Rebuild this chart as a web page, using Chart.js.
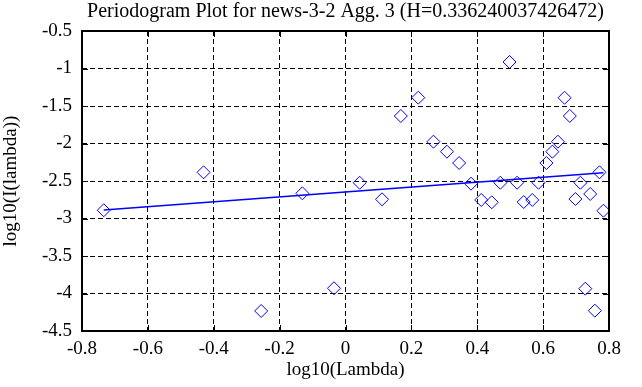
<!DOCTYPE html>
<html>
<head>
<meta charset="utf-8">
<script src="https://cdn.jsdelivr.net/npm/chart.js"></script>
<style>
  html, body { margin: 0; padding: 0; background: #fff; }
  #wrap { width: 642px; height: 387px; }
</style>
</head>
<body>
<div id="wrap"><canvas id="periodogram"></canvas></div>
<script>

// points of the periodogram (log10 lambda, log10 I(lambda))
var logLambda = [-0.734, -0.431, -0.256, -0.131, -0.035, 0.043, 0.111, 0.168, 0.221, 0.267,
                 0.308, 0.345, 0.381, 0.412, 0.444, 0.470, 0.498, 0.521, 0.541, 0.567,
                 0.586, 0.610, 0.628, 0.645, 0.665, 0.681, 0.698, 0.713, 0.728, 0.743,
                 0.757, 0.771, 0.783];
var logI = [-2.89, -2.384, -4.233, -2.664, -3.93, -2.523, -2.744, -1.633, -1.389, -1.976,
            -2.109, -2.26, -2.536, -2.753, -2.784, -2.523, -0.913, -2.523, -2.78, -2.753,
            -2.523, -2.26, -2.109, -1.976, -1.39, -1.633, -2.74, -2.523, -3.936, -2.673,
            -4.229, -2.384, -2.896];

// least squares line (end points)
var fitX = [-0.734, 0.783];
var fitY = [-2.887, -2.39];

var xTicks = [-0.8, -0.6, -0.4, -0.2, 0, 0.2, 0.4, 0.6, 0.8];
var yTicks = [-4.5, -4, -3.5, -3, -2.5, -2, -1.5, -1, -0.5];

var titre = 'Periodogram Plot for news-3-2 Agg. 3 (H=0.336240037426472)';
var police = 'Liberation Serif';

// cadre noir + petites graduations vers l'interieur
var cadre = {
    id: 'cadre',
    afterDatasetsDraw: function(chart) {
        var a = chart.chartArea, ctx = chart.ctx;
        var sx = chart.scales.x, sy = chart.scales.y;
        ctx.save();
        ctx.strokeStyle = '#000';
        ctx.lineWidth = 1;
        ctx.beginPath();
        xTicks.forEach(function(v) {
            var px = Math.round(sx.getPixelForValue(v)) + 0.5;
            ctx.moveTo(px, a.bottom); ctx.lineTo(px, a.bottom - 6);
            ctx.moveTo(px, a.top); ctx.lineTo(px, a.top + 6);
        });
        yTicks.forEach(function(v) {
            var py = Math.round(sy.getPixelForValue(v)) + 0.5;
            ctx.moveTo(a.left, py); ctx.lineTo(a.left + 6, py);
            ctx.moveTo(a.right, py); ctx.lineTo(a.right - 6, py);
        });
        ctx.stroke();
        ctx.lineWidth = 2;
        ctx.strokeRect(a.left, a.top, a.right - a.left, a.bottom - a.top);
        ctx.restore();
    }
};

var points = logLambda.map(function(x, i) { return {x: x, y: logI[i]}; });
var ligne = fitX.map(function(x, i) { return {x: x, y: fitY[i]}; });

var ctx = document.getElementById('periodogram').getContext('2d');
var chart = new Chart(ctx, {
    type: 'scatter',
    data: {
        datasets: [{
            data: points,
            pointStyle: 'rectRot',
            pointRadius: 6.5,
            pointBorderWidth: 1,
            borderColor: '#0000ff',
            backgroundColor: 'rgba(0,0,0,0)',
            showLine: false
        }, {
            data: ligne,
            showLine: true,
            pointRadius: 0,
            borderColor: '#0000ff',
            borderWidth: 1.5
        }]
    },
    options: {
        responsive: true,
        maintainAspectRatio: false,
        animation: false,
        layout: { padding: { left: 0, right: 33, top: 0, bottom: 0 } },
        plugins: {
            legend: { display: false },
            tooltip: { enabled: false },
            title: {
                display: true,
                fullSize: false,
                text: titre,
                color: '#000',
                font: { family: police, size: 20, weight: 'normal' },
                padding: { top: 0, bottom: 7 }
            }
        },
        scales: {
            x: {
                type: 'linear',
                min: -0.8, max: 0.8,
                afterBuildTicks: function(s) { s.ticks = xTicks.map(function(v) { return {value: v}; }); },
                afterFit: function(s) { s.height = 56; },
                ticks: {
                    color: '#000', padding: 7, maxRotation: 0,
                    font: { family: police, size: 19 },
                    callback: function(v) { return String(v); }
                },
                grid: { color: '#000', lineWidth: 1, drawTicks: false },
                border: { display: false, dash: [5, 3] },
                title: {
                    display: true, text: 'log10(Lambda)', color: '#000',
                    font: { family: police, size: 19 },
                    padding: { top: 0, bottom: 6 }
                }
            },
            y: {
                type: 'linear',
                min: -4.5, max: -0.5,
                afterBuildTicks: function(s) { s.ticks = yTicks.map(function(v) { return {value: v}; }); },
                afterFit: function(s) { s.width = 82; },
                ticks: {
                    color: '#000', padding: 10,
                    font: { family: police, size: 19 },
                    callback: function(v) { return String(v); }
                },
                grid: { color: '#000', lineWidth: 1, drawTicks: false },
                border: { display: false, dash: [5, 3] },
                title: {
                    display: true, text: 'log10(I(lambda))', color: '#000',
                    font: { family: police, size: 19 },
                    padding: { top: 0, bottom: 0 }
                }
            }
        }
    },
    plugins: [cadre]
});

</script>
</body>
</html>
